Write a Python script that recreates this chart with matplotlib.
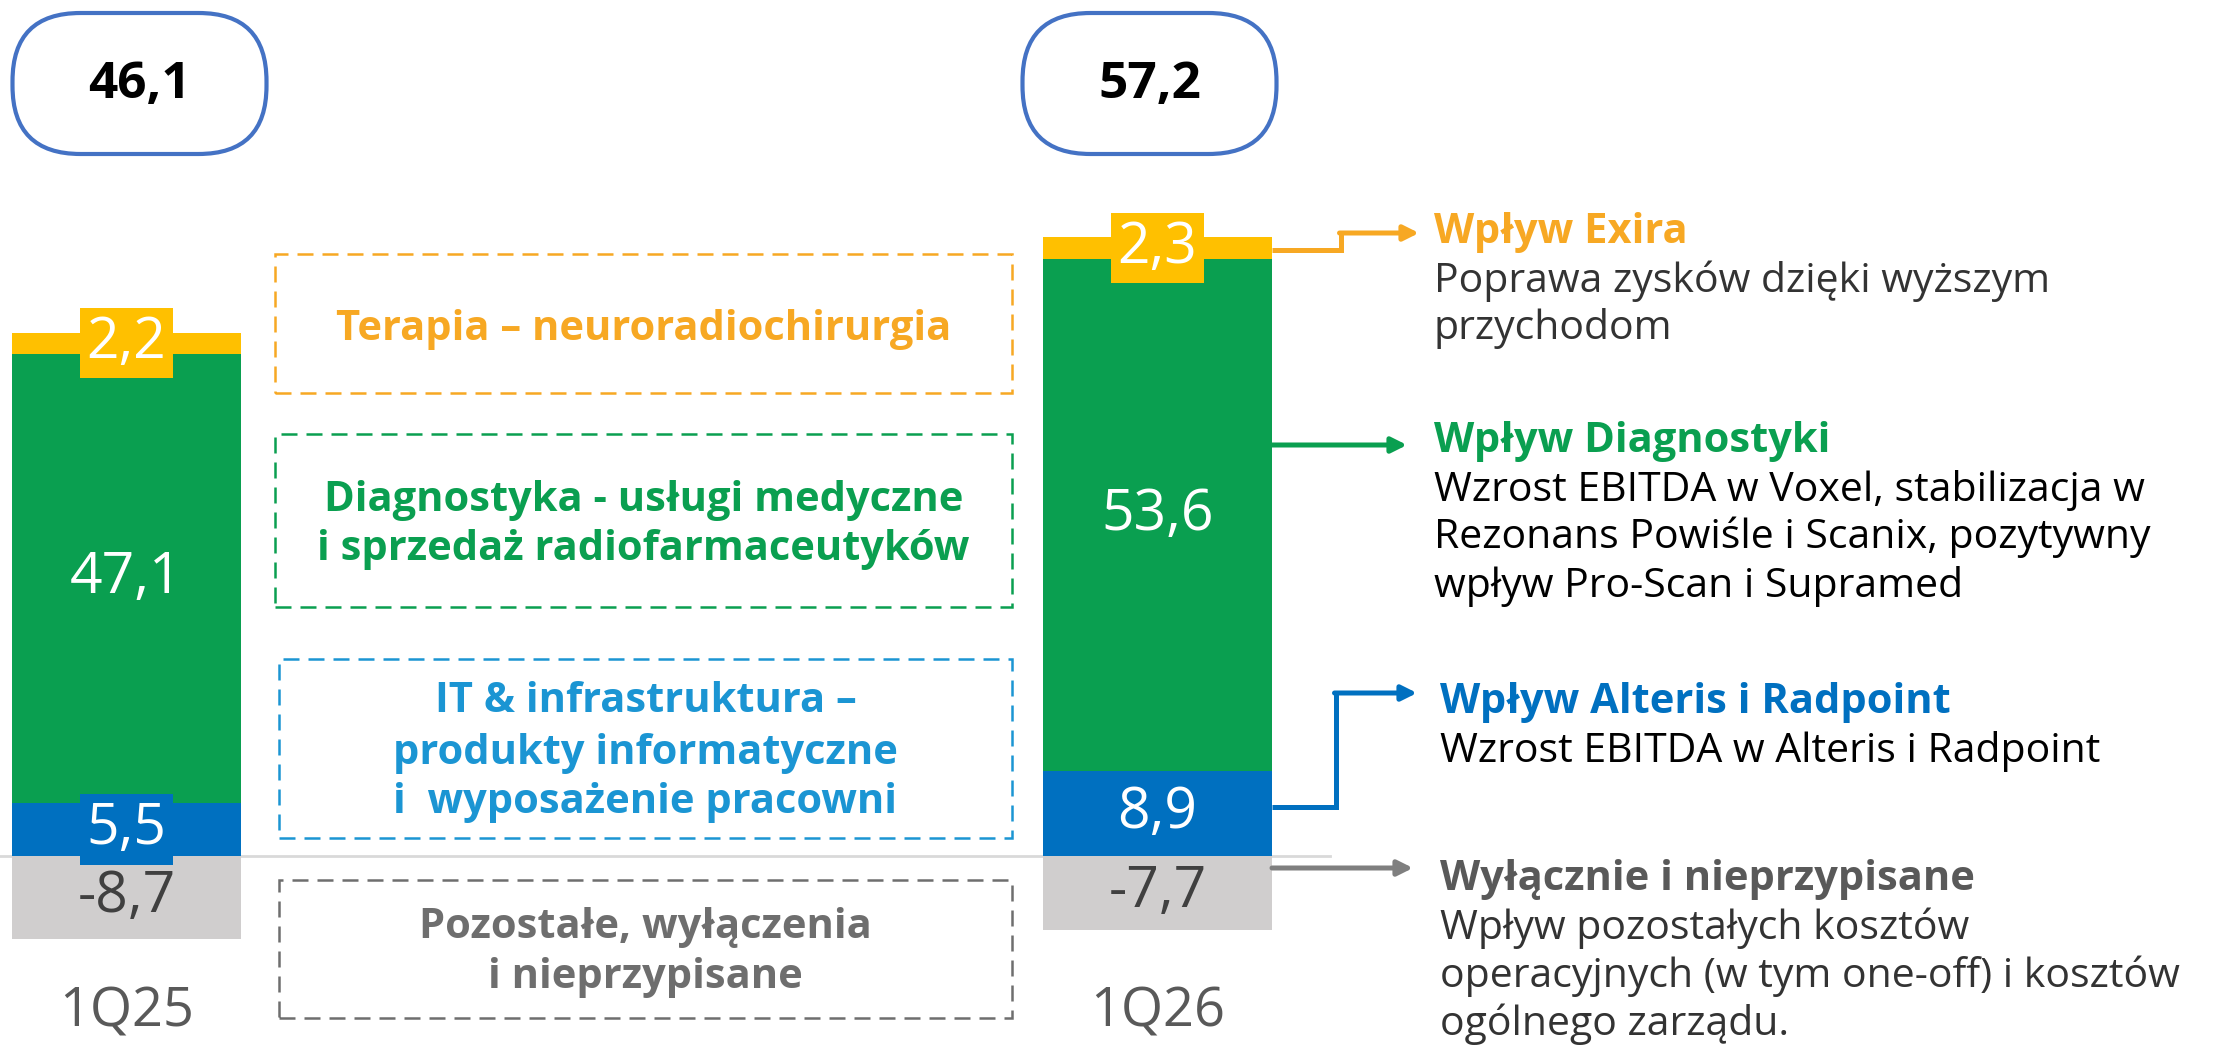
import matplotlib
matplotlib.use("Agg")
import matplotlib.pyplot as plt
from matplotlib.patches import Rectangle, FancyBboxPatch
import numpy as np

# ---------------- data ----------------
categories = ["1Q25", "1Q26"]
totals = [46.1, 57.2]
other_vals = [-8.7, -7.7]      # Pozostałe, wyłączenia i nieprzypisane
it_vals = [5.5, 8.9]           # IT & infrastruktura
diag_vals = [47.1, 53.6]       # Diagnostyka
ter_vals = [2.2, 2.3]          # Terapia

box_labels = [
    ["Terapia – neuroradiochirurgia"],
    ["Diagnostyka - usługi medyczne", "i sprzedaż radiofarmaceutyków"],
    ["IT & infrastruktura –", "produkty informatyczne", "i  wyposażenie pracowni"],
    ["Pozostałe, wyłączenia", "i nieprzypisane"],
]
right_heads = ["Wpływ Exira", "Wpływ Diagnostyki", "Wpływ Alteris i Radpoint",
               "Wyłącznie i nieprzypisane"]
right_bodies = [
    ["Poprawa zysków dzięki wyższym", "przychodom"],
    ["Wzrost EBITDA w Voxel, stabilizacja w", "Rezonans Powiśle i Scanix, pozytywny",
     "wpływ Pro-Scan i Supramed"],
    ["Wzrost EBITDA w Alteris i Radpoint"],
    ["Wpływ pozostałych kosztów", "operacyjnych (w tym one-off) i kosztów",
     "ogólnego zarządu."],
]

# ---------------- style ----------------
C_YEL = "#FFC000"
C_GRN = "#0A9F50"
C_BLU = "#0070C0"
C_GRY = "#D0CECE"
C_ORA = "#F7A823"
C_LBLU = "#1B95D3"
C_DGRY = "#6E6E6E"
FONT = "Open Sans"

W, H = 2215, 1045
fig = plt.figure(figsize=(W / 100, H / 100), dpi=100)
fig.patch.set_facecolor("white")

ax = fig.add_axes([0, 0, 1, 1])
ax.set_xlim(-0.1227, 2.0257)
ax.set_ylim(-19.79, 89.63)
ax.axis("off")

ov = fig.add_axes([0, 0, 1, 1], zorder=5)
ov.set_xlim(0, W)
ov.set_ylim(0, H)
ov.axis("off")
ov.patch.set_alpha(0)


def Y(y):
    return H - y


def fmt(v):
    return f"{v:.1f}".replace(".", ",")


x = np.arange(len(categories))
bw = 0.2221

# baseline
ax.plot([-0.1227, 1.167], [0, 0], color="#D9D9D9", lw=2.0, zorder=1)

ax.bar(x, other_vals, bw, color=C_GRY, zorder=2)
ax.bar(x, it_vals, bw, color=C_BLU, zorder=2)
b_diag = np.array(it_vals)
ax.bar(x, diag_vals, bw, bottom=b_diag, color=C_GRN, zorder=2)
b_ter = b_diag + np.array(diag_vals)
ax.bar(x, ter_vals, bw, bottom=b_ter, color=C_YEL, zorder=2)

lab_fs = 41
lw_txt = "normal"
for i in range(len(categories)):
    ax.text(x[i], other_vals[i] / 2, fmt(other_vals[i]), ha="center", va="center",
            fontsize=lab_fs, color="#404040", family=FONT, fontweight=lw_txt, zorder=4)
    ax.text(x[i], it_vals[i] / 2, fmt(it_vals[i]), ha="center", va="center",
            fontsize=lab_fs, color="white", family=FONT, fontweight=lw_txt, zorder=4,
            bbox=dict(boxstyle="square,pad=0.12", fc=C_BLU, ec="none"))
    ax.text(x[i], b_diag[i] + diag_vals[i] / 2, fmt(diag_vals[i]), ha="center", va="center",
            fontsize=lab_fs, color="white", family=FONT, fontweight=lw_txt, zorder=4)
    ax.text(x[i], b_ter[i] + ter_vals[i] / 2, fmt(ter_vals[i]), ha="center", va="center",
            fontsize=lab_fs, color="white", family=FONT, fontweight=lw_txt, zorder=4,
            bbox=dict(boxstyle="square,pad=0.12", fc=C_YEL, ec="none"))
    ax.text(x[i], -16.3, categories[i], ha="center", va="center", fontsize=39,
            color="#595959", family=FONT, fontweight=lw_txt)

# pills with totals
pill_w, pill_h = 254, 141
rad = 68
pill_dx = [13, -8]
for i, t in enumerate(totals):
    cx = ax.transData.transform((x[i], 0))[0] + pill_dx[i]
    p = FancyBboxPatch((cx - pill_w / 2 + rad, Y(154) + rad), pill_w - 2 * rad,
                       pill_h - 2 * rad,
                       boxstyle=f"round,pad={rad}", fc="white", ec="#4472C4", lw=3.0)
    ov.add_patch(p)
    ov.text(cx, Y(85), fmt(t), ha="center", va="center", fontsize=37,
            fontweight="bold", family=FONT, color="black")

# dashed boxes in the middle
boxes = [  # x0, y0, x1, y1 (pixels from top)
    (275, 254, 1012, 393),
    (275, 434, 1012, 607),
    (279, 659, 1012, 838),
    (279, 880, 1012, 1018),
]
box_cols = [C_ORA, C_GRN, C_LBLU, C_DGRY]
box_baselines = [[340], [511, 560], [712, 764, 813], [938, 988]]
for (x0, y0, x1, y1), col, lines, bls in zip(boxes, box_cols, box_labels, box_baselines):
    r = Rectangle((x0, Y(y1)), x1 - x0, y1 - y0, fill=False, ec=col, lw=1.8,
                  linestyle=(0, (6.4, 3.6)))
    ov.add_patch(r)
    for ln, bl in zip(lines, bls):
        ov.text((x0 + x1) / 2, Y(bl), ln, ha="center", va="baseline", fontsize=30,
                fontweight="bold", family=FONT, color=col)

# connectors
bar_right = 1272
lw_c = 3.6
arrow_kw = dict(arrowstyle="-|>,head_length=0.9,head_width=0.45", lw=lw_c,
                shrinkA=0, shrinkB=0)
ov.plot([bar_right, 1341, 1341], [Y(250), Y(250), Y(233)], color=C_ORA, lw=lw_c,
        solid_joinstyle="miter", solid_capstyle="butt")
ov.annotate("", xy=(1419, Y(233)), xytext=(1339.5, Y(233)),
            arrowprops=dict(color=C_ORA, **arrow_kw))
ov.annotate("", xy=(1407, Y(445)), xytext=(bar_right, Y(445)),
            arrowprops=dict(color=C_GRN, **arrow_kw))
ov.plot([bar_right, 1336, 1336], [Y(807), Y(807), Y(693)], color=C_BLU, lw=lw_c,
        solid_joinstyle="miter", solid_capstyle="butt")
ov.annotate("", xy=(1417, Y(693)), xytext=(1334.5, Y(693)),
            arrowprops=dict(color=C_BLU, **arrow_kw))
ov.annotate("", xy=(1413, Y(868)), xytext=(bar_right, Y(868)),
            arrowprops=dict(color="#7F7F7F", **arrow_kw))

# right texts
head_cols = [C_ORA, C_GRN, C_BLU, "#595959"]
head_x = [1434, 1434, 1440, 1440]
head_bl = [243, 452, 713, 890]
body_bl = [[292, 339], [501, 548, 597], [762], [939, 987, 1035]]
body_cols = ["#333333", "black", "black", "#333333"]
for hd, col, hx, hb, body, bbl, bc in zip(right_heads, head_cols, head_x, head_bl,
                                         right_bodies, body_bl, body_cols):
    ov.text(hx, Y(hb), hd, ha="left", va="baseline", fontsize=30, fontweight="bold",
            family=FONT, color=col)
    for ln, bl in zip(body, bbl):
        ov.text(hx, Y(bl), ln, ha="left", va="baseline", fontsize=29.5, family=FONT,
                color=bc)

fig.savefig("out.png", dpi=100, facecolor="white")
